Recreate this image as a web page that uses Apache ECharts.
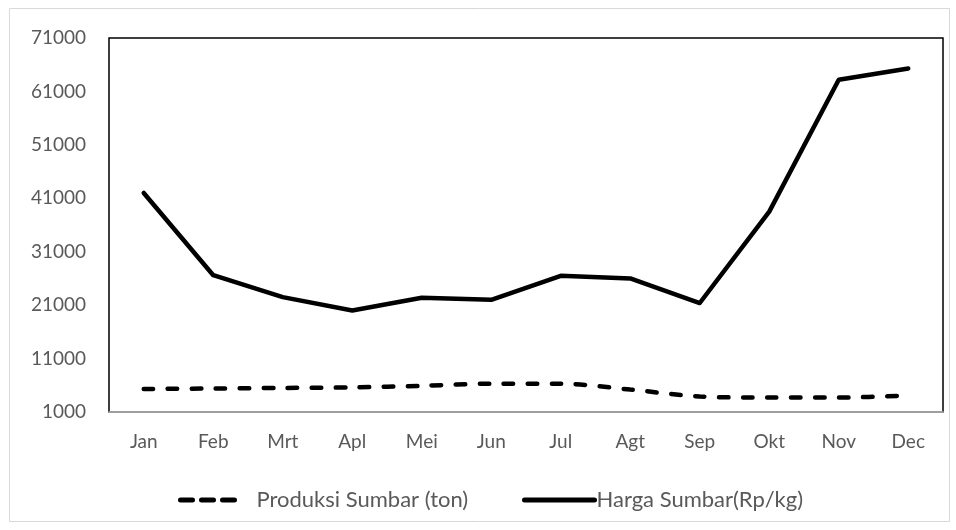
<!DOCTYPE html>
<html><head><meta charset="utf-8">
<script src="https://cdn.jsdelivr.net/npm/echarts@6/dist/echarts.min.js"></script>
<style>html,body{margin:0;padding:0;background:#fff}#c{width:956px;height:530px}</style>
</head><body><div id="c"></div>
<script>
const categories = ['Jan','Feb','Mrt','Apl','Mei','Jun','Jul','Agt','Sep','Okt','Nov','Dec'];
const produksi = [5300, 5400, 5500, 5600, 5900, 6300, 6300, 5200, 3900, 3700, 3700, 4100];
const harga = [42000, 26600, 22500, 20000, 22400, 22000, 26500, 26000, 21400, 38500, 63200, 65300];
const yMin = 1000, yMax = 71000, yStep = 10000;

const chart = echarts.init(document.getElementById('c'), null, {renderer:'canvas'});
const font = 'Lato, "Open Sans", sans-serif';
const legendText = {color:'#595959', fontSize:22, fontFamily:font};
chart.setOption({
  animation: false,
  graphic: [{type:'rect', shape:{x:9.5,y:8.5,width:940,height:513}, style:{fill:'none', stroke:'#d9d9d9', lineWidth:1}, silent:true}],
  grid: {left:109, right:13, top:38, bottom:118, show:true, borderColor:'#000', borderWidth:1.5, backgroundColor:'transparent'},
  xAxis: {type:'category', data:categories, boundaryGap:true,
    axisLine:{lineStyle:{color:'#bfbfbf', width:1.5}}, axisTick:{show:false},
    axisLabel:{color:'#595959', fontSize:19, fontFamily:font, margin:20}},
  yAxis: {type:'value', min:yMin, max:yMax, interval:yStep,
    axisLine:{show:false}, axisTick:{show:false}, splitLine:{show:false},
    axisLabel:{color:'#595959', fontSize:19, fontFamily:font, margin:23, formatter: v => String(v)}},
  legend: [
    {left:173, top:484, itemWidth:63, itemHeight:10, data:['Produksi Sumbar (ton)'],
      textStyle:Object.assign({padding:[0,0,0,8]}, legendText),
      itemStyle:{opacity:0}, lineStyle:{width:5, type:[12,9], cap:'round'}},
    {left:517, top:484, itemWidth:70, itemHeight:10, data:['Harga Sumbar(Rp/kg)'],
      textStyle:Object.assign({padding:[0,0,0,-3]}, legendText),
      itemStyle:{opacity:0}, lineStyle:{width:5, cap:'round'}}
  ],
  series: [
    {name:'Produksi Sumbar (ton)', type:'line', data:produksi, smooth:0.3, symbol:'none',
      lineStyle:{color:'#000', width:4.5, type:[9.5,14.5], cap:'round'}, itemStyle:{color:'#000'}},
    {name:'Harga Sumbar(Rp/kg)', type:'line', data:harga, smooth:false, symbol:'none',
      lineStyle:{color:'#000', width:4.5, cap:'round', join:'round'}, itemStyle:{color:'#000'}}
  ]
});
</script></body></html>
